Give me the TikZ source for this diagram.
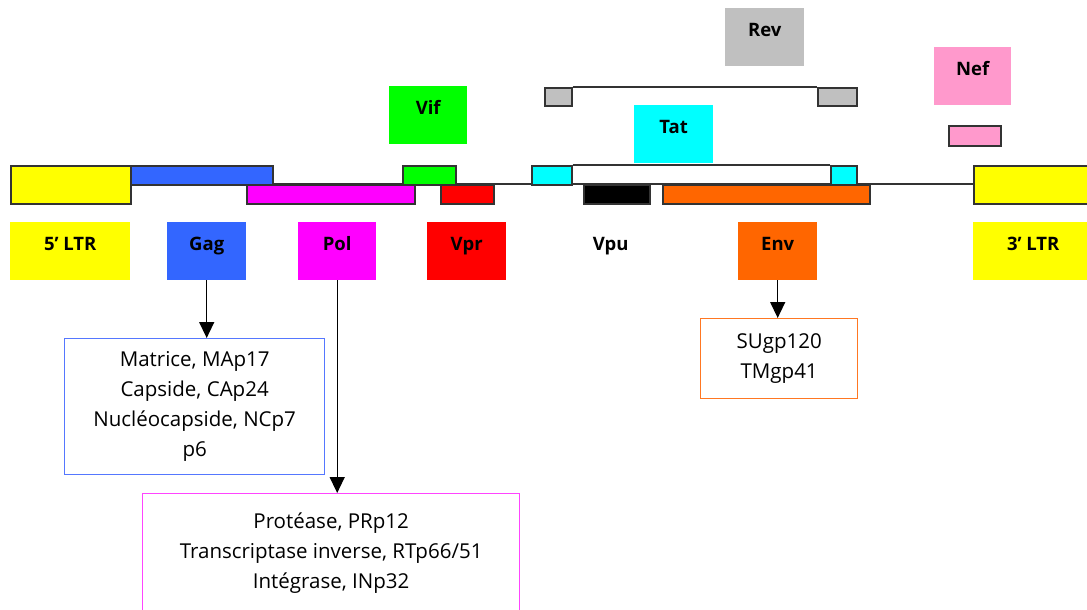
\documentclass[tikz,border=0pt]{standalone}
\usepackage{fontspec}
\setmainfont{Open Sans}
\usetikzlibrary{arrows.meta}
\definecolor{yel}{HTML}{FFFF00}
\definecolor{gagc}{HTML}{3366FF}
\definecolor{polc}{HTML}{FF00FF}
\definecolor{vifc}{HTML}{00FF00}
\definecolor{vprc}{HTML}{FF0000}
\definecolor{tatc}{HTML}{00FFFF}
\definecolor{envc}{HTML}{FF6600}
\definecolor{revc}{HTML}{C0C0C0}
\definecolor{nefc}{HTML}{FF99CC}
\definecolor{barline}{HTML}{333333}
\definecolor{gagbox}{HTML}{5577FF}
\definecolor{polbox}{HTML}{FF44FF}
\definecolor{envbox}{HTML}{FF7722}
\tikzset{
  bar/.style={draw=barline, line width=1.6pt, inner sep=0pt, anchor=north west},
  lab/.style={inner sep=0pt, anchor=north west, minimum height=58pt,
    text height=13pt, text depth=15pt, font=\bfseries\fontsize{18.5}{20}\selectfont},
  prot/.style={draw, line width=1.3pt, inner sep=0pt, anchor=north west, align=center,
    font=\fontsize{20.5}{30}\selectfont},
  arr/.style={line width=1.4pt, -{Triangle[width=15pt,length=16pt]}}
}
\begin{document}
\begin{tikzpicture}[x=1pt,y=-1pt]
\useasboundingbox (0,0) rectangle (1087,610);
% backbone line
\coordinate (lineS) at (130,184);
\coordinate (lineE) at (973,184);
\draw[barline, line width=1.6pt] (lineS) -- (lineE);
% genome bars
\node[bar, fill=yel, minimum width=120pt, minimum height=38pt] (ltr5) at (10,165) {};
\node[bar, fill=gagc, minimum width=142pt, minimum height=19pt] (gag) at (130,165) {};
\node[bar, fill=polc, minimum width=168pt, minimum height=19pt] (pol) at (246,184) {};
\node[bar, fill=vifc, minimum width=53pt, minimum height=19pt] (vif) at (402,165) {};
\node[bar, fill=vprc, minimum width=53pt, minimum height=19pt] (vpr) at (440,184) {};
\node[bar, fill=tatc, minimum width=40pt, minimum height=19pt] (tatA) at (531,165) {};
\node[bar, fill=tatc, minimum width=26pt, minimum height=19pt] (tatB) at (830,165) {};
\draw[barline, line width=1.6pt] (tatA.north east) -- (tatB.north west);
\node[bar, fill=black, minimum width=66pt, minimum height=19pt] (vpu) at (583,184) {};
\node[bar, fill=envc, minimum width=207pt, minimum height=19pt] (env) at (662,184) {};
\node[bar, fill=yel, minimum width=120pt, minimum height=38pt] (ltr3) at (973,165) {};
% Rev exons
\node[bar, fill=revc, minimum width=27pt, minimum height=18pt] (revA) at (544,87) {};
\node[bar, fill=revc, minimum width=39pt, minimum height=18pt] (revB) at (817,87) {};
\draw[barline, line width=1.6pt] (revA.north east) -- (revB.north west);
% Nef
\node[bar, fill=nefc, minimum width=52pt, minimum height=20pt] (nef) at (948,125) {};
% labels
\node[lab, fill=revc, minimum width=79pt] (revL) at (725,8) {Rev};
\node[lab, fill=tatc, minimum width=79pt] (tatL) at (634,105) {Tat};
\node[lab, fill=nefc, minimum width=77pt] (nefL) at (934,47) {Nef};
\node[lab, fill=vifc, minimum width=78pt] (vifL) at (389,86) {Vif};
\node[lab, fill=yel, minimum width=120pt] (ltr5L) at (10,222) {5' LTR};
\node[lab, fill=gagc, minimum width=79pt] (gagL) at (167,222) {Gag};
\node[lab, fill=polc, minimum width=78pt] (polL) at (298,222) {Pol};
\node[lab, fill=vprc, minimum width=79pt] (vprL) at (427,222) {Vpr};
\node[lab, minimum width=79pt] (vpuL) at (571,222) {Vpu};
\node[lab, fill=envc, minimum width=79pt] (envL) at (738,222) {Env};
\node[lab, fill=yel, minimum width=120pt] (ltr3L) at (973,222) {3' LTR};
% protein boxes
\node[prot, draw=gagbox, minimum width=260pt, minimum height=136pt] (gagP) at (64,338)
  {Matrice, MAp17\\ Capside, CAp24\\ Nucléocapside, NCp7\\ p6};
\node[prot, draw=polbox, minimum width=377pt, minimum height=119pt] (polP) at (142,493)
  {Protéase, PRp12\\ Transcriptase inverse, RTp66/51\\ Intégrase, INp32};
\node[prot, draw=envbox, minimum width=157pt, minimum height=80pt] (envP) at (700,318)
  {SUgp120\\ TMgp41};
% arrows
\draw[arr] (gagL.south) -- (gagL.south |- gagP.north);
\draw[arr] (polL.south) -- (polL.south |- polP.north);
\draw[arr] (envL.south) -- (envL.south |- envP.north);
\end{tikzpicture}
\end{document}
